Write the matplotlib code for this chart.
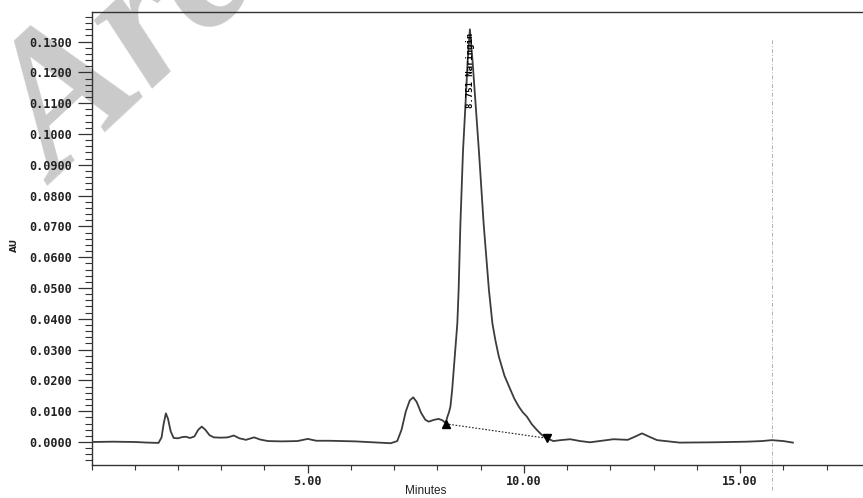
import matplotlib
matplotlib.use("Agg")
import matplotlib.pyplot as plt
from matplotlib.font_manager import FontProperties
from matplotlib.ticker import MultipleLocator, FixedLocator, FuncFormatter

# chromatogram trace (minutes, AU)
time_min = [0.0, 0.5, 1.0, 1.3, 1.55, 1.62, 1.67, 1.72, 1.77, 1.83, 1.90,
            2.00, 2.10, 2.18, 2.28, 2.38, 2.47, 2.55, 2.63, 2.73, 2.83,
            3.00, 3.15, 3.29, 3.42, 3.57, 3.76, 3.90, 4.08, 4.40, 4.76,
            5.00, 5.20, 5.50, 5.80, 6.10, 6.50, 6.92, 7.07, 7.17, 7.27,
            7.36, 7.44, 7.52, 7.62, 7.72, 7.80, 7.92, 8.03, 8.12, 8.19,
            8.23, 8.27, 8.30, 8.34, 8.40, 8.46, 8.49, 8.53, 8.59, 8.65,
            8.70, 8.75, 8.81, 8.88, 8.96, 9.07, 9.19, 9.27, 9.34, 9.42,
            9.55, 9.69, 9.78, 9.88, 9.97, 10.07, 10.18, 10.30, 10.40, 10.50,
            10.68, 10.85, 11.07, 11.30, 11.53, 11.80, 12.07, 12.40, 12.58,
            12.73, 12.90, 13.08, 13.60, 14.38, 15.15, 15.50, 15.73, 16.00,
            16.22]
absorbance_au = [0.0000, 0.0001, 0.0000, -0.0002, -0.0003, 0.0015, 0.0060,
                 0.0093, 0.0075, 0.0035, 0.0013, 0.0012, 0.0016, 0.0017,
                 0.0013, 0.0018, 0.0040, 0.0050, 0.0040, 0.0022, 0.0015,
                 0.0014, 0.0015, 0.0021, 0.0012, 0.0007, 0.0015, 0.0008,
                 0.0003, 0.0002, 0.0003, 0.0010, 0.0004, 0.0004, 0.0003,
                 0.0002, -0.0001, -0.0004, 0.0003, 0.0040, 0.0100, 0.0135,
                 0.0145, 0.0130, 0.0095, 0.0072, 0.0066, 0.0072, 0.0075,
                 0.0070, 0.0061, 0.0082, 0.0098, 0.0115, 0.0169, 0.0277,
                 0.0386, 0.0494, 0.0705, 0.0942, 0.1101, 0.1240, 0.1340,
                 0.1240, 0.1101, 0.0942, 0.0705, 0.0494, 0.0386, 0.0330,
                 0.0277, 0.0215, 0.0169, 0.0140, 0.0115, 0.0097, 0.0082,
                 0.0058, 0.0039, 0.0025, 0.0014, 0.0003, 0.0006, 0.0009,
                 0.0003, -0.0001, 0.0004, 0.0009, 0.0007, 0.0018, 0.0028,
                 0.0017, 0.0006, -0.0002, -0.0001, 0.0001, 0.0003, 0.0006,
                 0.0003, -0.0002]

# integration baseline of the main peak
peak_start = (8.19, 0.0059)
peak_end = (10.53, 0.0012)
peak_label = "8.751 Naringin"
peak_rt = 8.76
label_au = 0.1084

marker_line_t = 15.73
x_major = [5, 10, 15]
y_major_step = 0.01

W, H = 863, 498
fig = plt.figure(figsize=(W / 100, H / 100), dpi=100)
ax = fig.add_axes([91.5 / W, (H - 465) / H, 1 - 91.5 / W, (465 - 12) / H])
ax.patch.set_visible(False)

# faint watermark behind everything
fig.text(58 / W, 1 - 187 / H, "Arc", family="Liberation Serif", weight="bold",
         style="italic", size=140, color="#cacaca", rotation=43,
         rotation_mode="anchor", ha="left", va="baseline", zorder=-5)

line_col = "#3c3c3c"
ax.plot(time_min, absorbance_au, color=line_col, lw=1.3, zorder=3)
ax.plot([peak_start[0], peak_end[0]], [peak_start[1], peak_end[1]],
        color="#222222", lw=0.8, ls=(0, (1.5, 1.5)), zorder=3)
ax.plot(*peak_start, marker="^", ms=6, color="black", zorder=4)
ax.plot(*peak_end, marker="v", ms=6, color="black", zorder=4)

ax.axvline(marker_line_t, ymin=-0.055, ymax=0.943, color="#b0b0b0", lw=0.7,
           ls=(0, (4, 2, 1, 2)), clip_on=False, zorder=1)

ax.text(peak_rt, label_au, peak_label, rotation=90, ha="center", va="bottom",
        family="DejaVu Sans Mono", weight="bold", size=6.5, color="black",
        zorder=5)

ax.set_xlim(0, (W - 90.5) / 43.3)
ax.set_ylim(-0.00747, 0.1396)

for s in ["left", "top", "bottom"]:
    ax.spines[s].set_color("#333333")
    ax.spines[s].set_linewidth(1.0)
ax.spines["right"].set_visible(False)

ax.xaxis.set_major_locator(FixedLocator(x_major))
ax.xaxis.set_minor_locator(MultipleLocator(1))
ax.xaxis.set_major_formatter(FuncFormatter(lambda v, p: "%.2f" % v))
ax.yaxis.set_major_locator(MultipleLocator(y_major_step))
ax.yaxis.set_minor_locator(MultipleLocator(0.002))
ax.yaxis.set_major_formatter(FuncFormatter(lambda v, p: "%.4f" % (0.0 if abs(v) < 1e-9 else v)))

tick_font = FontProperties(family="DejaVu Sans Mono", weight="bold", size=8.5)
ax.tick_params(axis="y", which="major", direction="out", length=10, width=0.9,
               pad=4, colors="#333333", labelcolor="#222222")
ax.tick_params(axis="y", which="minor", direction="out", length=5, width=0.8,
               colors="#333333")
ax.tick_params(axis="x", which="major", direction="out", length=6, width=0.9,
               pad=1.5, colors="#333333", labelcolor="#222222")
ax.tick_params(axis="x", which="minor", direction="out", length=3.5, width=0.8,
               colors="#333333")
for lab in ax.get_xticklabels() + ax.get_yticklabels():
    lab.set_fontproperties(tick_font)

fig.text(14 / W, 1 - 245 / H, "AU", rotation=90, ha="center", va="center",
         family="DejaVu Sans", weight="bold", size=6.5, color="#222222")
fig.text(426 / W, 0.002, "Minutes", ha="center", va="bottom",
         family="Liberation Sans", size=8.5, color="#222222")

fig.savefig("out.png", dpi=100)
